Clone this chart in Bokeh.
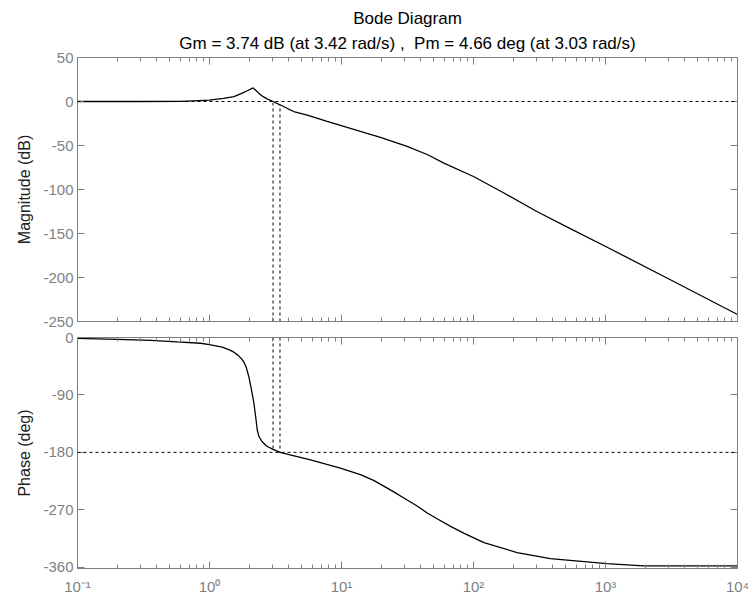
from bokeh.plotting import figure
from bokeh.models import Range1d, FixedTicker, LogAxis, LinearAxis, Span, Title
from bokeh.layouts import column
from bokeh.embed import file_html
from bokeh.resources import INLINE

# ---------------- data ----------------
mag_w = [0.1, 0.3, 0.6, 0.76, 1.0, 1.28, 1.53, 1.77, 1.95, 2.14, 2.25,
         2.36, 2.55, 2.73, 3.03, 3.42, 3.9, 4.35, 5.5, 7.78, 13.9, 20,
         31.4, 45, 59.6, 100, 170, 302, 550, 970, 3100, 10000]
mag_db = [0, 0, 0.2, 0.8, 1.5, 3.5, 5.5, 9.5, 12.5, 15.5, 12.5,
          9.5, 5.5, 3.0, 0, -3.74, -8.0, -11.4, -15.5, -22.7, -34, -41,
          -51, -60.5, -70, -85.2, -104, -125, -145, -163.6, -202.6, -242]

ph_w = [0.1, 0.2, 0.36, 0.57, 0.855, 1.0, 1.25, 1.4, 1.53, 1.65, 1.75,
        1.82, 1.9, 1.99, 2.08, 2.17, 2.24, 2.30, 2.36, 2.43, 2.5, 2.7,
        3.03, 3.42, 5.82, 9.8, 13.9, 17.5, 20.9, 24.9, 30.5, 37.4, 44.6,
        53, 67, 85, 120, 214, 382, 1023, 1940, 10000]
ph_deg = [-1.5, -3, -4.5, -7, -9, -11, -15, -19, -23, -28, -33.5,
          -38.5, -47, -62, -82, -103, -125, -145, -154, -159, -163, -170,
          -175.3, -180, -191.7, -204.6, -215, -224, -233, -242, -253, -264,
          -275, -284, -296, -307, -321.5, -337, -346.5, -354.3, -358, -358]

gm_db, gm_freq = 3.74, 3.42
pm_deg, pm_freq = 4.66, 3.03

title_1 = "Bode Diagram"
title_2 = "Gm = 3.74 dB (at 3.42 rad/s) ,\u00a0 Pm = 4.66 deg (at 3.03 rad/s)"

x_major = [0.1, 1, 10, 100, 1000, 10000]
x_labels = ["10\u207b\u00b9", "10\u2070", "10\u00b9", "10\u00b2", "10\u00b3", "10\u2074"]
mag_ticks = [50, 0, -50, -100, -150, -200, -250]
ph_ticks = [0, -90, -180, -270, -360]

# ---------------- styling ----------------
FONT = "Liberation Sans"
GRAY = "#7f7f7f"
x_minor = [d * m for d in x_major[:-1] for m in range(2, 10)]
x_overrides = {float(t): lab for t, lab in zip(x_major, x_labels)}


def style_axis(ax, show_labels, minor=True, standoff=4):
    ax.axis_line_color = GRAY
    ax.major_tick_line_color = GRAY
    ax.minor_tick_line_color = GRAY if minor else None
    ax.major_tick_in = 7
    ax.major_tick_out = 0
    ax.minor_tick_in = 4
    ax.minor_tick_out = 0
    ax.major_label_text_color = GRAY
    ax.major_label_text_font = FONT
    if show_labels:
        ax.major_label_text_font_size = "15px"
        ax.major_label_standoff = standoff
    else:
        ax.major_label_text_font_size = "0px"
        ax.major_label_standoff = 0
        ax.major_label_text_alpha = 0


def make_fig(height, ymin, ymax, yticks, ylabel, top_border, bottom_border, show_x):
    p = figure(width=749, height=height, x_axis_type="log",
               x_range=Range1d(0.1, 10000), y_range=Range1d(ymin, ymax),
               output_backend="svg", toolbar_location=None,
               min_border_left=77, min_border_right=12,
               min_border_top=top_border, min_border_bottom=bottom_border)
    p.grid.visible = False
    p.outline_line_color = GRAY
    p.background_fill_color = "white"
    p.border_fill_color = "white"
    xt = FixedTicker(ticks=x_major, minor_ticks=x_minor)
    yt = FixedTicker(ticks=yticks)
    p.xaxis.ticker = xt
    p.xaxis.major_label_overrides = x_overrides
    style_axis(p.xaxis[0], show_x, standoff=9)
    p.yaxis.ticker = yt
    p.yaxis.major_label_overrides = {float(t): str(t) for t in yticks}
    style_axis(p.yaxis[0], True, minor=False, standoff=4)
    p.yaxis.axis_label = ylabel
    p.yaxis.axis_label_text_font = FONT
    p.yaxis.axis_label_text_font_size = "16px"
    p.yaxis.axis_label_text_font_style = "normal"
    p.yaxis.axis_label_text_color = "#202020"
    p.yaxis.axis_label_standoff = 7
    ax_top = LogAxis(ticker=xt)
    style_axis(ax_top, False)
    p.add_layout(ax_top, "above")
    ax_right = LinearAxis(ticker=yt)
    style_axis(ax_right, False, minor=False)
    p.add_layout(ax_right, "right")
    return p


# ---------------- magnitude ----------------
p1 = make_fig(329, -250, 50, mag_ticks, "Magnitude (dB)", 57, 8, False)
p1.add_layout(Title(text=title_2, align="center", text_font=FONT,
                    text_font_size="17px", text_font_style="normal",
                    text_color="black", standoff=9), "above")
p1.add_layout(Title(text=title_1, align="center", text_font=FONT,
                    text_font_size="17px", text_font_style="normal",
                    text_color="black", standoff=0), "above")
p1.add_layout(Span(location=0, dimension="width", line_color="black",
                   line_dash="3 3", line_width=1))
p1.segment(x0=[pm_freq, gm_freq], y0=[-250, -250], x1=[pm_freq, gm_freq],
           y1=[0, -gm_db], line_color="black", line_dash="3 3", line_width=1)
p1.line(mag_w, mag_db, line_color="black", line_width=1.3)

# ---------------- phase ----------------
p2 = make_fig(270, -362, 0, ph_ticks, "Phase (deg)", 8, 31, True)
p2.add_layout(Span(location=-180, dimension="width", line_color="black",
                   line_dash="3 3", line_width=1))
p2.segment(x0=[pm_freq, gm_freq], y0=[0, 0], x1=[pm_freq, gm_freq],
           y1=[-180 + pm_deg, -180], line_color="black", line_dash="3 3",
           line_width=1)
p2.line(ph_w, ph_deg, line_color="black", line_width=1.3)

layout = column(p1, p2, spacing=0)
open("out.html", "w").write(file_html(layout, INLINE))
